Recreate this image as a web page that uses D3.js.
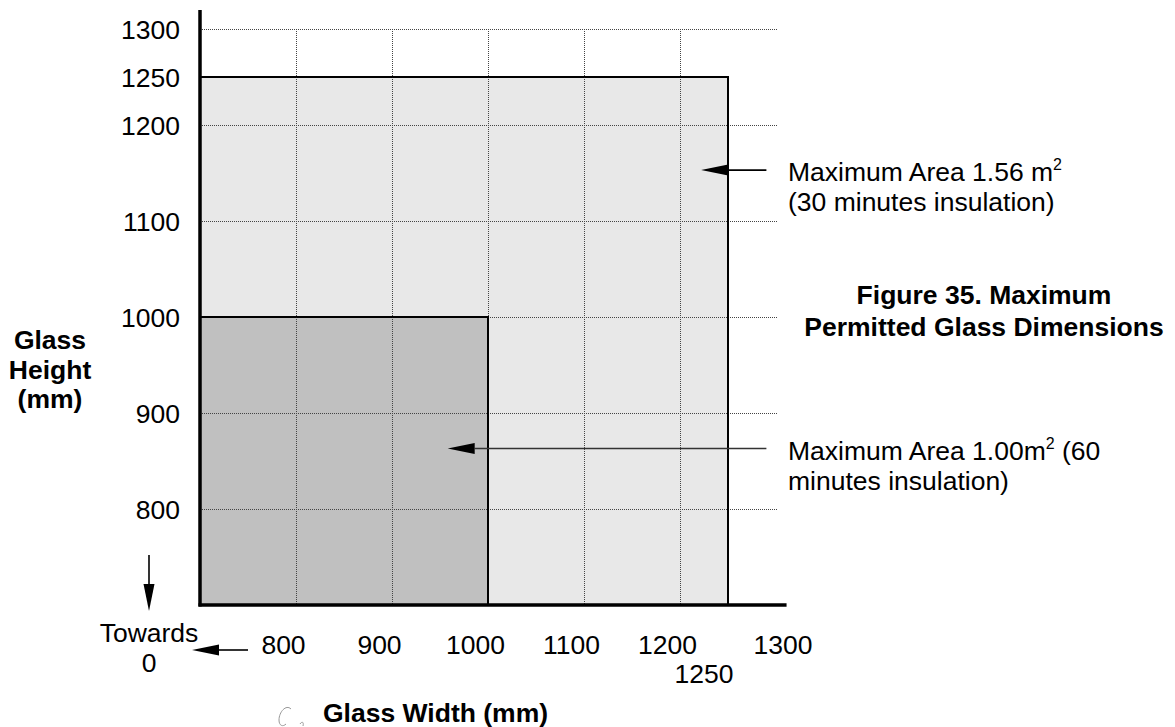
<!DOCTYPE html>
<html>
<head>
<meta charset="utf-8">
<script src="https://cdn.jsdelivr.net/npm/d3@7/dist/d3.min.js"></script>
<style>
  html, body { margin: 0; padding: 0; background: #fff; }
  svg text { font-family: "Liberation Sans", Arial, sans-serif; fill: #000; }
</style>
</head>
<body>
<svg id="chart" width="1175" height="727"></svg>
<script>
// ---- data ----
const xTickValues = [800, 900, 1000, 1100, 1200, 1300];
const xExtraTick = [1250];
const yTickValues = [800, 900, 1000, 1100, 1200, 1250, 1300];
const xGridValues = [800, 900, 1000, 1100, 1200];
const yGridValues = [800, 900, 1000, 1100, 1200, 1300];
const axisDomain = [700, 1300];
// permitted regions: max width x max height (mm)
const regions = [
  { name: "30 minutes", width: 1250, height: 1250, fill: "#e8e8e8" },
  { name: "60 minutes", width: 1000, height: 1000, fill: "#c0c0c0" }
];
// annotation arrows (mm)
const annotations = [
  { from: 1290, to: 1222, at: 1153, lines: [["Maximum Area 1.56 m", "2", ""], ["(30 minutes insulation)", "", ""]] },
  { from: 1290, to: 958, at: 863, lines: [["Maximum Area 1.00m", "2", " (60"], ["minutes insulation)", "", ""]] }
];

// ---- layout ----
const svg = d3.select("#chart");
const x = d3.scaleLinear().domain(axisDomain).range([200, 776]);
const y = d3.scaleLinear().domain(axisDomain).range([605, 29]);
const FS = 26.5;

// regions (large first)
svg.selectAll("rect.region").data(regions).enter().append("rect")
  .attr("class", "region")
  .attr("x", x(axisDomain[0]))
  .attr("y", d => y(d.height))
  .attr("width", d => x(d.width) - x(axisDomain[0]))
  .attr("height", d => y(axisDomain[0]) - y(d.height))
  .attr("fill", d => d.fill);

// grid
const grid = svg.append("g").attr("stroke", "#444").attr("stroke-width", 1).attr("stroke-dasharray", "1,1");
grid.selectAll("line.h").data(yGridValues).enter().append("line")
  .attr("x1", x(axisDomain[0])).attr("x2", x(1302))
  .attr("y1", d => y(d) + 0.5).attr("y2", d => y(d) + 0.5);
grid.selectAll("line.v").data(xGridValues).enter().append("line")
  .attr("x1", d => x(d) + 0.5).attr("x2", d => x(d) + 0.5)
  .attr("y1", y(1300)).attr("y2", y(axisDomain[0]));

// region outlines on top of grid
svg.selectAll("rect.outline").data(regions).enter().append("rect")
  .attr("x", x(axisDomain[0]))
  .attr("y", d => y(d.height))
  .attr("width", d => x(d.width) - x(axisDomain[0]))
  .attr("height", d => y(axisDomain[0]) - y(d.height))
  .attr("fill", "none")
  .attr("stroke", "#000")
  .attr("stroke-width", 2);

// axes lines
svg.append("line").attr("x1", x(axisDomain[0])).attr("x2", x(axisDomain[0]))
  .attr("y1", 10).attr("y2", y(axisDomain[0]) + 1.5)
  .attr("stroke", "#000").attr("stroke-width", 3.5);
svg.append("line").attr("x1", x(axisDomain[0]) - 1.5).attr("x2", x(1311))
  .attr("y1", y(axisDomain[0])).attr("y2", y(axisDomain[0]))
  .attr("stroke", "#000").attr("stroke-width", 3.5);

// y tick labels
svg.selectAll("text.ytick").data(yTickValues).enter().append("text")
  .attr("x", 180).attr("y", d => y(d) + 9.5)
  .attr("text-anchor", "end").attr("font-size", FS)
  .text(d => d);

// x tick labels
svg.selectAll("text.xtick").data(xTickValues).enter().append("text")
  .attr("x", d => x(d) + (d === axisDomain[1] ? 7 : -12.5))
  .attr("y", 654)
  .attr("text-anchor", "middle").attr("font-size", FS)
  .text(d => d);
svg.selectAll("text.xtick2").data(xExtraTick).enter().append("text")
  .attr("x", d => x(d) - 24)
  .attr("y", 683)
  .attr("text-anchor", "middle").attr("font-size", FS)
  .text(d => d);

// arrow helper
function arrow(x1, y1, x2, y2, color) {
  const ang = Math.atan2(y2 - y1, x2 - x1);
  const L = 27, W = 5.5;
  const bx = x2 - L * Math.cos(ang), by = y2 - L * Math.sin(ang);
  svg.append("line").attr("x1", x1).attr("y1", y1).attr("x2", bx).attr("y2", by)
    .attr("stroke", color).attr("stroke-width", 1.6);
  const px = -Math.sin(ang) * W, py = Math.cos(ang) * W;
  svg.append("path")
    .attr("d", `M${x2},${y2}L${bx + px},${by + py}L${bx - px},${by - py}Z`)
    .attr("fill", "#000");
}

// annotations
annotations.forEach((a, i) => {
  arrow(x(a.from), y(a.at), x(a.to), y(a.at), i === 0 ? "#000" : "#333");
  a.lines.forEach((ln, j) => {
    const t = svg.append("text").attr("x", 788).attr("y", y(a.at) + 11 + j * 30).attr("font-size", FS);
    t.append("tspan").text(ln[0]);
    if (ln[1]) t.append("tspan").attr("dy", -11).attr("font-size", 16).text(ln[1]);
    if (ln[2]) t.append("tspan").attr("dy", 11).attr("font-size", FS).text(ln[2]);
  });
});

// "Towards 0" arrows
arrow(149, 555, 149, 611, "#000");
arrow(248, 650, 192, 650, "#000");
svg.append("text").attr("x", 149).attr("y", 642).attr("text-anchor", "middle").attr("font-size", FS).text("Towards");
svg.append("text").attr("x", 149).attr("y", 672).attr("text-anchor", "middle").attr("font-size", FS).text("0");

// axis titles
const yTitle = ["Glass", "Height", "(mm)"];
svg.selectAll("text.ytitle").data(yTitle).enter().append("text")
  .attr("x", 50).attr("y", (d, i) => 349 + i * 29.5)
  .attr("text-anchor", "middle").attr("font-size", FS).attr("font-weight", "bold")
  .text(d => d);
svg.append("text").attr("x", 323).attr("y", 722).attr("font-size", FS).attr("font-weight", "bold")
  .text("Glass Width (mm)");

// figure caption
const caption = ["Figure 35. Maximum", "Permitted Glass Dimensions"];
svg.selectAll("text.cap").data(caption).enter().append("text")
  .attr("x", 984).attr("y", (d, i) => 304 + i * 32)
  .attr("text-anchor", "middle").attr("font-size", FS).attr("font-weight", "bold")
  .text(d => d);

// faint scan squiggle
svg.append("path")
  .attr("d", "M291,709 C286,704 279,712 279,720 C279,726 283,727 286,724 M300,724 C302,721 304,722 303,726")
  .attr("fill", "none").attr("stroke", "#999").attr("stroke-width", 1);
</script>
</body>
</html>
